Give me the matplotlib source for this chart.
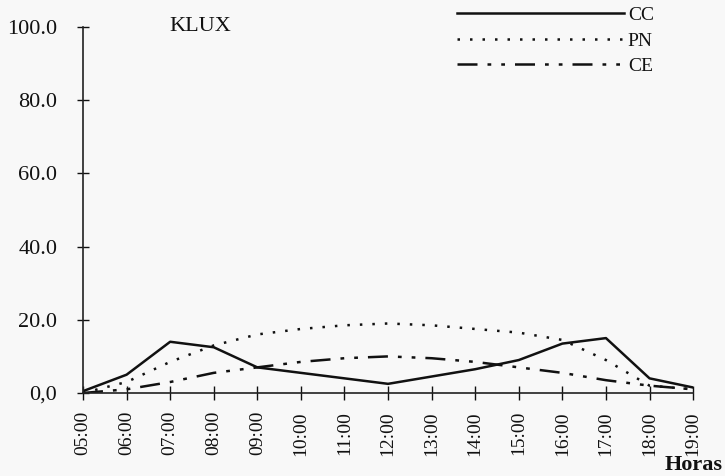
import matplotlib
matplotlib.use("Agg")
import matplotlib.pyplot as plt

hours = ["05:00", "06:00", "07:00", "08:00", "09:00", "10:00", "11:00", "12:00",
         "13:00", "14:00", "15:00", "16:00", "17:00", "18:00", "19:00"]
cc = [0.5, 5.0, 14.0, 12.5, 7.0, 5.5, 4.0, 2.5, 4.5, 6.5, 9.0, 13.5, 15.0, 4.0, 1.5]
pn = [0.0, 3.0, 8.5, 13.0, 16.0, 17.5, 18.5, 19.0, 18.5, 17.5, 16.5, 14.5, 9.0, 2.0, 1.0]
ce = [0.0, 1.0, 3.0, 5.5, 7.0, 8.5, 9.5, 10.0, 9.5, 8.5, 7.0, 5.5, 3.5, 2.0, 1.0]
yticks = [0, 20, 40, 60, 80, 100]
ytick_labels = ["0,0", "20.0", "40.0", "60.0", "80.0", "100.0"]

plt.rcParams['font.family'] = ['Liberation Serif', 'DejaVu Serif']
bg = '#f8f8f8'
ink = '#111111'
fig = plt.figure(figsize=(7.25, 4.76), dpi=100, facecolor=bg)
ax = fig.add_axes([0.1145, 0.1744, 0.8415, 0.7686], facecolor=bg)

x = list(range(len(hours)))
ax.plot(x, cc, color=ink, lw=1.8, ls='-', label='CC')
ax.plot(x, pn, color=ink, lw=1.8, ls=(0, (1, 4)), label='PN')
ax.plot(x, ce, color=ink, lw=1.8, ls=(0, (8, 4, 1.5, 4, 1.5, 4)), label='CE')

ax.set_xlim(0, 14)
ax.set_ylim(0, 100)
ax.set_xticks(x)
ax.set_xticklabels(hours, rotation=90, fontsize=14)
ax.set_yticks(yticks)
ax.set_yticklabels(ytick_labels, fontsize=16)
ax.tick_params(axis='x', direction='inout', length=10, width=1, colors=ink, pad=8)
ax.tick_params(axis='y', direction='inout', length=9, width=1, colors=ink, pad=14)
for s in ['top', 'right']:
    ax.spines[s].set_visible(False)
for s in ['left', 'bottom']:
    ax.spines[s].set_linewidth(1.2)
    ax.spines[s].set_color('#222222')

fig.text(0.234, 0.965, "KLUX", ha='left', va='top', fontsize=16, color=ink)
fig.text(0.997, 0.002, "Horas", ha='right', va='bottom', fontsize=16, fontweight='bold', color=ink)

leg = fig.legend(loc='upper left', bbox_to_anchor=(0.630, 0.986), frameon=False,
                 fontsize=14, handlelength=8.6, handletextpad=0.2, labelspacing=0.4,
                 borderaxespad=0, borderpad=0)
for t in leg.get_texts():
    t.set_color(ink)

fig.savefig("out.png", dpi=100, facecolor=bg)
